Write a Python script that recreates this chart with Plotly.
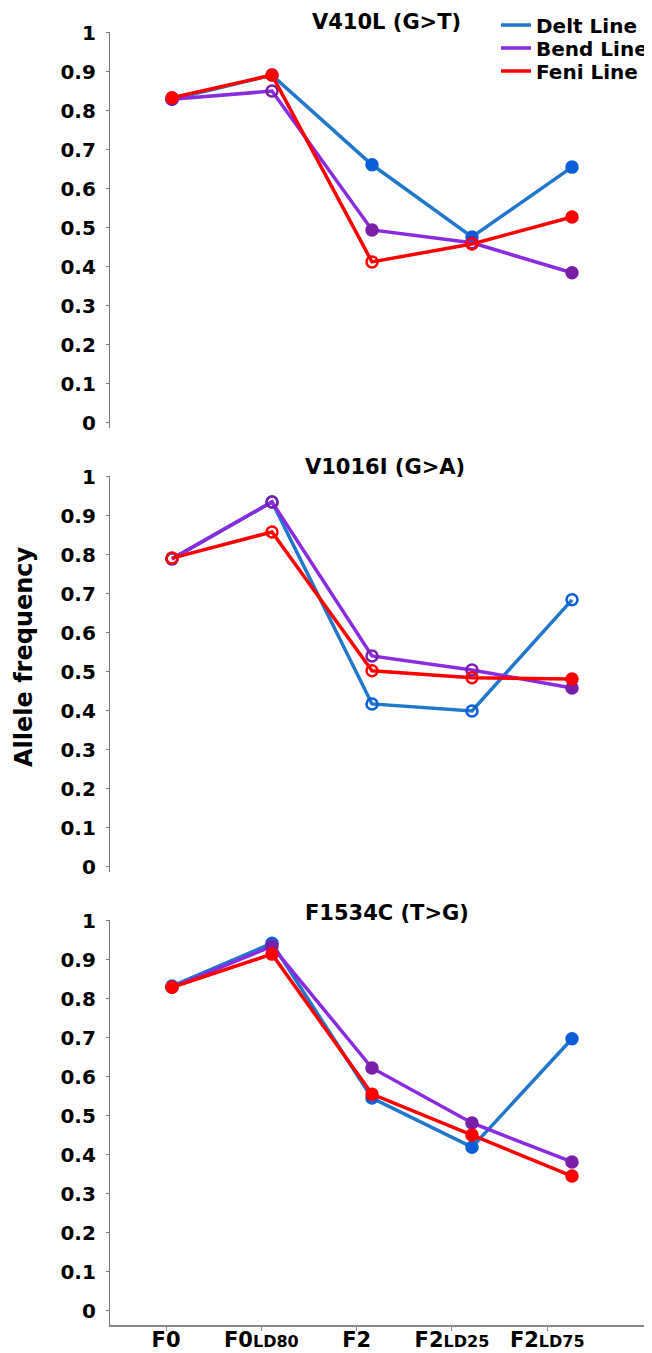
import plotly.graph_objects as go

categories = ["F0", "F0LD80", "F2", "F2LD25", "F2LD75"]
tick_labels = [
    "F0",
    "F0<span style='font-size:16px'>LD80</span>",
    "F2",
    "F2<span style='font-size:16px'>LD25</span>",
    "F2<span style='font-size:16px'>LD75</span>",
]
panel_titles = ["V410L (G>T)", "V1016I (G>A)", "F1534C (T>G)"]
series_names = ["Delt Line", "Bend Line", "Feni Line"]

# allele frequency per panel
delt = [
    [0.830, 0.892, 0.662, 0.477, 0.656],
    [0.790, 0.936, 0.418, 0.400, 0.685],
    [0.833, 0.943, 0.546, 0.420, 0.698],
]
bend = [
    [0.830, 0.851, 0.495, 0.462, 0.385],
    [0.790, 0.936, 0.541, 0.505, 0.459],
    [0.830, 0.935, 0.623, 0.482, 0.382],
]
feni = [
    [0.834, 0.892, 0.413, 0.459, 0.528],
    [0.792, 0.859, 0.503, 0.485, 0.482],
    [0.830, 0.915, 0.556, 0.451, 0.346],
]
# 1 = filled marker, 0 = open marker
delt_filled = [[1, 0, 1, 1, 1], [0, 0, 0, 0, 0], [1, 1, 1, 1, 1]]
bend_filled = [[1, 0, 1, 0, 1], [0, 0, 0, 0, 1], [1, 1, 1, 1, 1]]
feni_filled = [[1, 1, 0, 0, 1], [0, 0, 0, 0, 1], [1, 1, 1, 1, 1]]

y_ticks = [0, 0.1, 0.2, 0.3, 0.4, 0.5, 0.6, 0.7, 0.8, 0.9, 1]
y_ticktext = ["0", "0.1", "0.2", "0.3", "0.4", "0.5", "0.6", "0.7", "0.8", "0.9", "1"]

line_colors = ["#1f78cc", "#8a2be2", "#ff0000"]
marker_colors = ["#0b5ed7", "#7a1fa8", "#ff0000"]
all_data = [delt, bend, feni]
all_filled = [delt_filled, bend_filled, feni_filled]

FONT = "DejaVu Sans"
BODY = 8            # default page margin of the html body
W, H = 652 - BODY, 1353 - BODY
L = 110 - BODY
PW = W - L

fig = go.Figure()

for p in range(3):
    xa = "x" if p == 0 else f"x{p+1}"
    ya = "y" if p == 0 else f"y{p+1}"
    for s in range(3):
        vals = all_data[s][p]
        filled = all_filled[s][p]
        fig.add_trace(go.Scatter(
            x=categories, y=vals, xaxis=xa, yaxis=ya,
            mode="lines+markers",
            line=dict(color=line_colors[s], width=3.5),
            marker=dict(
                size=11,
                color=marker_colors[s],
                symbol=["circle" if f else "circle-open" for f in filled],
                line=dict(width=2.5, color=marker_colors[s]),
            ),
            showlegend=False, hoverinfo="skip",
        ))

legend_keys = ["legend", "legend2", "legend3"]
# legend entries (lines only), one small legend each
for s in range(3):
    fig.add_trace(go.Scatter(
        x=[None], y=[None], mode="lines", name=series_names[s],
        line=dict(color=line_colors[s], width=3.5),
        xaxis="x", yaxis="y", legend=legend_keys[s], showlegend=True,
    ))

# dummy trace to register categories on the label axis
fig.add_trace(go.Scatter(x=categories, y=[None] * 5, xaxis="x4", yaxis="y3",
                         mode="markers", showlegend=False, hoverinfo="skip"))


def py(px):
    return 1 - (px - BODY) / H


def pxp(px):
    return (px - 110) / PW


domains = [
    (py(428.0), py(31.8)),
    (py(872.0), py(475.8)),
    (py(1325.0), py(919.8)),
]
yranges = [[-0.013, 1.003], [-0.013, 1.003], [-0.036, 1.003]]

layout = dict(
    width=W, height=H,
    margin=dict(l=L, r=0, t=0, b=0, autoexpand=False),
    plot_bgcolor="white", paper_bgcolor="white",
    font=dict(family=FONT, color="black"),
    showlegend=True,
)

legend_rows = [25, 48, 71]
for s in range(3):
    layout[legend_keys[s]] = dict(
        x=pxp(496), y=py(legend_rows[s]), xanchor="left", yanchor="middle",
        font=dict(family=FONT, size=20, color="black", weight="bold"),
        bgcolor="rgba(0,0,0,0)", itemwidth=30,
    )

for p in range(3):
    xk = "xaxis" if p == 0 else f"xaxis{p+1}"
    yk = "yaxis" if p == 0 else f"yaxis{p+1}"
    ya = "y" if p == 0 else f"y{p+1}"
    xa = "x" if p == 0 else f"x{p+1}"
    layout[xk] = dict(
        domain=[0, 1], anchor=ya, type="category",
        categoryorder="array", categoryarray=categories,
        range=[-0.62, 4.8], visible=False, fixedrange=True,
    )
    layout[yk] = dict(
        domain=list(domains[p]), anchor=xa, range=yranges[p],
        showgrid=False, zeroline=False, showline=True,
        linecolor="#777777", linewidth=1.2,
        ticks="outside", ticklen=3, tickcolor="#777777", tickwidth=1,
        tickvals=y_ticks, ticktext=y_ticktext,
        tickfont=dict(family=FONT, size=20, color="black", weight="bold"),
        ticklabelstandoff=6, automargin=False, fixedrange=True,
    )

layout["xaxis4"] = dict(
    overlaying="x3", anchor="y3", type="category",
    categoryorder="array", categoryarray=categories,
    range=[-0.588, 5.099],
    tickmode="array", tickvals=categories, ticktext=tick_labels,
    showline=True, linecolor="#888888", linewidth=1.5,
    ticks="outside", ticklen=4, tickcolor="#888888",
    showgrid=False, zeroline=False,
    tickfont=dict(family=FONT, size=21, color="black", weight="bold"),
    ticklabelstandoff=-9,
    automargin=False, fixedrange=True,
)

title_pos = [(386, 22), (385, 467), (387, 913)]
annotations = []
for p in range(3):
    cx, cy = title_pos[p]
    annotations.append(dict(
        text=panel_titles[p], xref="paper", yref="paper",
        x=pxp(cx), y=py(cy), xanchor="center", yanchor="middle",
        showarrow=False,
        font=dict(family=FONT, size=21, color="black", weight="bold"),
    ))
annotations.append(dict(
    text="Allele frequency", xref="paper", yref="paper",
    x=pxp(24), y=py(657), xanchor="center", yanchor="middle",
    textangle=-90, showarrow=False,
    font=dict(family=FONT, size=24, color="black", weight="bold"),
))
layout["annotations"] = annotations

fig.update_layout(**layout)
fig.write_html("out.html")
